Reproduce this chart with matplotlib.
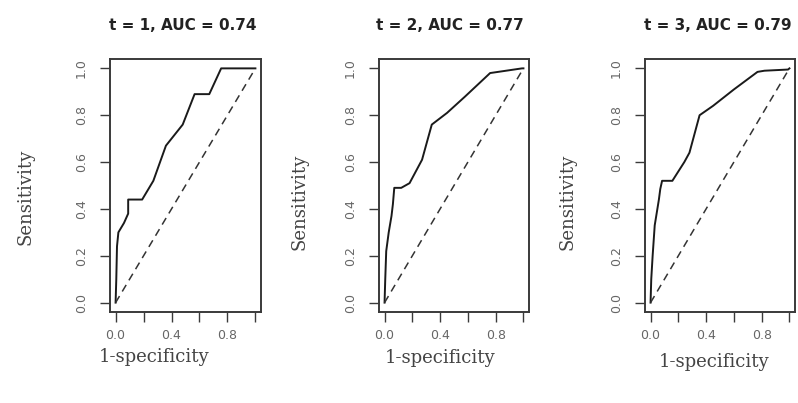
import matplotlib
matplotlib.use("Agg")
import matplotlib.pyplot as plt

W, H = 798, 403

TIMES = [1, 2, 3]
AUCS = [0.74, 0.77, 0.79]

fpr_t1 = [0, 0.005, 0.01, 0.02, 0.04, 0.06, 0.09, 0.09, 0.19, 0.27, 0.36, 0.48, 0.565, 0.67, 0.755, 0.985, 1.0]
tpr_t1 = [0, 0.10, 0.24, 0.30, 0.32, 0.34, 0.38, 0.44, 0.44, 0.52, 0.67, 0.76, 0.89, 0.89, 1.0, 1.0, 1.0]

fpr_t2 = [0, 0.005, 0.012, 0.03, 0.05, 0.06, 0.07, 0.12, 0.18, 0.27, 0.34, 0.45, 0.58, 0.76, 0.99, 1.0]
tpr_t2 = [0, 0.10, 0.22, 0.30, 0.37, 0.42, 0.49, 0.49, 0.51, 0.61, 0.76, 0.81, 0.88, 0.98, 1.0, 1.0]

fpr_t3 = [0, 0.005, 0.015, 0.03, 0.06, 0.07, 0.083, 0.157, 0.243, 0.28, 0.353, 0.45, 0.60, 0.77, 0.82, 0.99, 1.0]
tpr_t3 = [0, 0.10, 0.20, 0.33, 0.44, 0.485, 0.52, 0.52, 0.60, 0.64, 0.80, 0.84, 0.91, 0.985, 0.99, 0.995, 1.0]

CURVES = [(fpr_t1, tpr_t1), (fpr_t2, tpr_t2), (fpr_t3, tpr_t3)]

TICKS = [0.0, 0.2, 0.4, 0.6, 0.8, 1.0]
X_TICK_LABELS = ["0.0", "", "0.4", "", "0.8", ""]
Y_TICK_LABELS = ["0.0", "0.2", "0.4", "0.6", "0.8", "1.0"]

# pixel layout of the three panels (left, right edges; shared top/bottom)
PANEL_X = [(110, 261), (379, 529), (645, 795)]
PANEL_TOP, PANEL_BOTTOM = 59, 312
TITLE_X = [183, 450, 718]
YLAB_POS = [(25, 197), (300, 202), (568, 202)]
XLAB_POS = [(154, 357), (440, 358), (714, 362)]

LINE = "#1a1a1a"
GREY = "#3a3a3a"

fig = plt.figure(figsize=(W / 100, H / 100), dpi=100)


def fx(x):
    return x / W


def fy(y):
    return 1 - y / H


for i, (fpr, tpr) in enumerate(CURVES):
    x0, x1 = PANEL_X[i]
    ax = fig.add_axes([fx(x0), fy(PANEL_BOTTOM), (x1 - x0) / W, (PANEL_BOTTOM - PANEL_TOP) / H])
    ax.plot(fpr, tpr, color=LINE, linewidth=1.4)
    ax.plot([0, 1], [0, 1], color="#333333", linewidth=1.1, linestyle=(0, (5, 3.5)))
    ax.set_xlim(-0.04, 1.04)
    ax.set_ylim(-0.04, 1.04)
    ax.set_xticks(TICKS)
    ax.set_xticklabels(X_TICK_LABELS)
    ax.set_yticks(TICKS)
    ax.set_yticklabels(Y_TICK_LABELS, rotation=90, va="center")
    ax.tick_params(direction="out", length=7, width=1.0, color=GREY,
                   labelsize=9, labelcolor="#666666")
    ax.tick_params(axis="x", pad=5)
    ax.tick_params(axis="y", pad=9)
    for sp in ax.spines.values():
        sp.set_linewidth(1.4)
        sp.set_color(GREY)

    fig.text(fx(TITLE_X[i]), fy(25), f"t = {TIMES[i]}, AUC = {AUCS[i]:.2f}",
             ha="center", va="center", fontsize=11, fontweight="bold",
             family="DejaVu Sans", color="#222222")
    yx, yy = YLAB_POS[i]
    fig.text(fx(yx), fy(yy), "Sensitivity", rotation=90, ha="center", va="center",
             fontsize=13, family="DejaVu Serif", color="#444444")
    xx, xy = XLAB_POS[i]
    fig.text(fx(xx), fy(xy), "1-specificity", ha="center", va="center",
             fontsize=13, family="DejaVu Serif", color="#444444")

fig.savefig("out.png", dpi=100)
